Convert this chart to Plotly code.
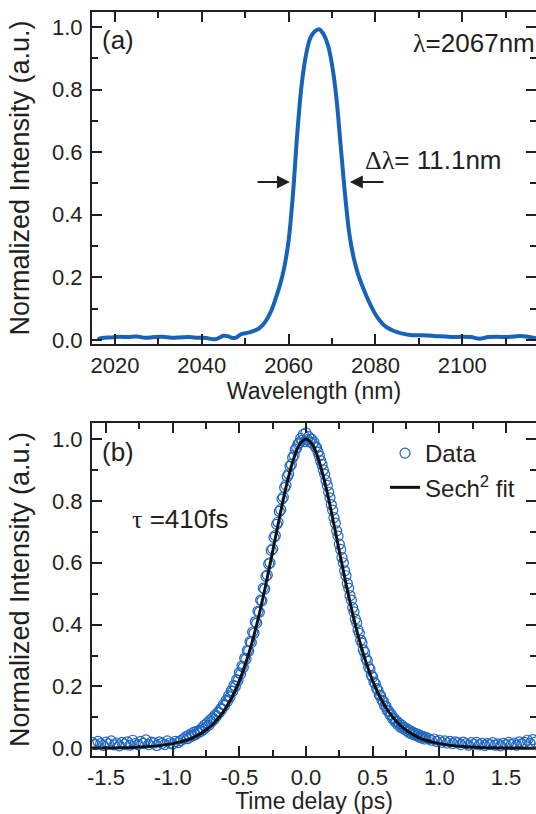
"""
Two-panel figure: (a) optical spectrum, (b) autocorrelation trace with sech^2 fit.
"""

import plotly.graph_objects as go
from plotly.subplots import make_subplots

# ---------------------------------------------------------------------------
# (a) spectrum
# ---------------------------------------------------------------------------
WAVELENGTH_NM = [
    2016, 2017, 2019, 2021, 2023, 2025, 2027, 2029, 2031, 2033, 2035, 2037,
    2039, 2041, 2043, 2045, 2046, 2047, 2048, 2049, 2050, 2051, 2052, 2053,
    2054, 2055, 2056, 2057, 2058, 2059, 2060, 2061, 2062, 2063, 2064, 2065,
    2066, 2067, 2068, 2069, 2070, 2071, 2072, 2073, 2074, 2075, 2076, 2077,
    2078, 2079, 2080, 2081, 2082, 2083, 2084, 2085, 2086, 2088, 2090, 2092,
    2094, 2096, 2098, 2100, 2102, 2104, 2106, 2108, 2110, 2112, 2114, 2116,
    2117,
]
SPECTRUM_INT = [
    0.002, 0.006, 0.008, 0.010, 0.009, 0.011, 0.007, 0.009, 0.010, 0.007, 0.008, 0.009,
    0.007, 0.006, 0.002, 0.013, 0.012, 0.006, 0.008, 0.018, 0.021, 0.024, 0.029, 0.035,
    0.047, 0.066, 0.093, 0.132, 0.175, 0.232, 0.318, 0.465, 0.660, 0.815, 0.910, 0.965,
    0.986, 0.993, 0.978, 0.945, 0.880, 0.775, 0.620, 0.465, 0.338, 0.262, 0.210, 0.172,
    0.138, 0.108, 0.082, 0.062, 0.047, 0.037, 0.030, 0.025, 0.021, 0.016, 0.015, 0.014,
    0.012, 0.011, 0.009, 0.010, 0.009, 0.004, 0.009, 0.010, 0.009, 0.011, 0.012, 0.008,
    0.005,
]

# ---------------------------------------------------------------------------
# (b) autocorrelation data
# ---------------------------------------------------------------------------
DELAY_PS = [
    -1.60, -1.58, -1.56, -1.54, -1.52, -1.50, -1.48, -1.46, -1.44, -1.42, -1.40, -1.38,
    -1.36, -1.34, -1.32, -1.30, -1.28, -1.26, -1.24, -1.22, -1.20, -1.18, -1.16, -1.14,
    -1.12, -1.10, -1.08, -1.06, -1.04, -1.02, -1.00, -0.98, -0.96, -0.94, -0.92,
    -0.90, -0.89, -0.88, -0.87, -0.86, -0.85, -0.84, -0.83, -0.82, -0.81, -0.80, -0.79,
    -0.78, -0.77, -0.76, -0.75, -0.74, -0.73, -0.72, -0.71, -0.70, -0.69, -0.68, -0.67,
    -0.66, -0.65, -0.64, -0.63, -0.62, -0.61, -0.60, -0.59, -0.58, -0.57, -0.56, -0.55,
    -0.54, -0.53, -0.52, -0.51, -0.50, -0.49, -0.48, -0.47, -0.46, -0.45, -0.44, -0.43,
    -0.42, -0.41, -0.40, -0.39, -0.38, -0.37, -0.36, -0.35, -0.34, -0.33, -0.32, -0.31,
    -0.30, -0.29, -0.28, -0.27, -0.26, -0.25, -0.24, -0.23, -0.22, -0.21, -0.20, -0.19,
    -0.18, -0.17, -0.16, -0.15, -0.14, -0.13, -0.12, -0.11, -0.10, -0.09, -0.08, -0.07,
    -0.06, -0.05, -0.04, -0.03, -0.02, -0.01, 0.00, 0.01, 0.02, 0.03, 0.04, 0.05,
    0.06, 0.07, 0.08, 0.09, 0.10, 0.11, 0.12, 0.13, 0.14, 0.15, 0.16, 0.17,
    0.18, 0.19, 0.20, 0.21, 0.22, 0.23, 0.24, 0.25, 0.26, 0.27, 0.28, 0.29,
    0.30, 0.31, 0.32, 0.33, 0.34, 0.35, 0.36, 0.37, 0.38, 0.39, 0.40, 0.41,
    0.42, 0.43, 0.44, 0.45, 0.46, 0.47, 0.48, 0.49, 0.50, 0.51, 0.52, 0.53,
    0.54, 0.55, 0.56, 0.57, 0.58, 0.59, 0.60, 0.61, 0.62, 0.63, 0.64, 0.65,
    0.66, 0.67, 0.68, 0.69, 0.70, 0.71, 0.72, 0.73, 0.74, 0.75, 0.76, 0.77,
    0.78, 0.79, 0.80, 0.81, 0.82, 0.83, 0.84, 0.85, 0.86, 0.87, 0.88, 0.89, 0.90,
    0.92, 0.94, 0.96, 0.98, 1.00, 1.02, 1.04, 1.06, 1.08, 1.10, 1.12, 1.14,
    1.16, 1.18, 1.20, 1.22, 1.24, 1.26, 1.28, 1.30, 1.32, 1.34, 1.36, 1.38,
    1.40, 1.42, 1.44, 1.46, 1.48, 1.50, 1.52, 1.54, 1.56, 1.58, 1.60, 1.62,
    1.64, 1.66, 1.68, 1.70, 1.72,
]
AC_DATA = [
    0.018, 0.012, 0.022, 0.015, 0.009, 0.020, 0.014, 0.024, 0.011, 0.017, 0.008, 0.019,
    0.013, 0.021, 0.010, 0.026, 0.015, 0.012, 0.022, 0.016, 0.027, 0.012, 0.020, 0.017,
    0.009, 0.021, 0.016, 0.012, 0.024, 0.017, 0.014, 0.022, 0.018, 0.025, 0.030,
    0.038, 0.031, 0.042, 0.036, 0.047, 0.040, 0.052, 0.044, 0.055, 0.050, 0.058, 0.054,
    0.066, 0.060, 0.075, 0.068, 0.082, 0.074, 0.091, 0.085, 0.098, 0.093, 0.108, 0.104,
    0.117, 0.115, 0.128, 0.126, 0.141, 0.138, 0.155, 0.151, 0.170, 0.166, 0.186, 0.184,
    0.203, 0.200, 0.222, 0.219, 0.244, 0.240, 0.266, 0.262, 0.291, 0.288, 0.316, 0.314,
    0.345, 0.342, 0.376, 0.372, 0.409, 0.405, 0.443, 0.440, 0.479, 0.477, 0.518, 0.515,
    0.556, 0.560, 0.596, 0.600, 0.640, 0.645, 0.682, 0.688, 0.724, 0.731, 0.766, 0.772,
    0.806, 0.812, 0.843, 0.851, 0.879, 0.887, 0.912, 0.918, 0.940, 0.948, 0.966, 0.972,
    0.984, 0.988, 1.002, 0.996, 1.015, 0.992, 1.020, 0.998, 1.008, 0.990, 1.000, 0.986,
    0.990, 0.975, 0.972, 0.958, 0.945, 0.930, 0.918, 0.900, 0.886, 0.866, 0.850, 0.828,
    0.810, 0.788, 0.770, 0.746, 0.728, 0.703, 0.686, 0.660, 0.643, 0.617, 0.600, 0.574,
    0.558, 0.533, 0.518, 0.494, 0.479, 0.455, 0.441, 0.418, 0.406, 0.383, 0.372, 0.350,
    0.340, 0.318, 0.310, 0.290, 0.282, 0.262, 0.256, 0.236, 0.230, 0.214, 0.209, 0.193,
    0.188, 0.172, 0.170, 0.155, 0.152, 0.137, 0.136, 0.122, 0.121, 0.108, 0.109, 0.095,
    0.097, 0.085, 0.088, 0.076, 0.080, 0.068, 0.074, 0.064, 0.067, 0.058, 0.062, 0.052,
    0.057, 0.047, 0.052, 0.044, 0.048, 0.040, 0.045, 0.036, 0.041, 0.033, 0.038, 0.030, 0.035,
    0.031, 0.026, 0.030, 0.022, 0.026, 0.019, 0.024, 0.017, 0.022, 0.015, 0.021, 0.018,
    0.012, 0.020, 0.015, 0.010, 0.018, 0.013, 0.019, 0.011, 0.016, 0.009, 0.015, 0.012,
    0.018, 0.010, 0.014, 0.008, 0.016, 0.011, 0.019, 0.012, 0.017, 0.010, 0.021, 0.014,
    0.019, 0.026, 0.016, 0.028, 0.020,
]

# sech^2 fit
FIT_PS = [
    -1.70, -1.60, -1.50, -1.40, -1.30, -1.20, -1.10, -1.00, -0.95, -0.90, -0.85, -0.80,
    -0.75, -0.70, -0.65, -0.60, -0.55, -0.50, -0.45, -0.40, -0.35, -0.30, -0.25, -0.20,
    -0.15, -0.10, -0.05, 0.00, 0.05, 0.10, 0.15, 0.20, 0.25, 0.30, 0.35, 0.40,
    0.45, 0.50, 0.55, 0.60, 0.65, 0.70, 0.75, 0.80, 0.85, 0.90, 0.95, 1.00,
    1.10, 1.20, 1.30, 1.40, 1.50, 1.60, 1.70, 1.75,
]
FIT_INT = [
    0.0003, 0.0005, 0.0009, 0.0016, 0.0028, 0.0049, 0.0086, 0.0151, 0.020, 0.026, 0.034, 0.045,
    0.059, 0.077, 0.101, 0.131, 0.170, 0.218, 0.278, 0.350, 0.435, 0.532, 0.637, 0.744,
    0.844, 0.926, 0.981, 1.000, 0.981, 0.926, 0.844, 0.744, 0.637, 0.532, 0.435, 0.350,
    0.278, 0.218, 0.170, 0.131, 0.101, 0.077, 0.059, 0.045, 0.034, 0.026, 0.020, 0.0151,
    0.0086, 0.0049, 0.0028, 0.0016, 0.0009, 0.0005, 0.0003, 0.0002,
]

DELAY_TICKS = [-1.5, -1.0, -0.5, 0.0, 0.5, 1.0, 1.5]
DELAY_TICK_TEXT = ["-1.5", "-1.0", "-0.5", "0.0", "0.5", "1.0", "1.5"]

BLUE = "#1763b9"
DOT_BLUE = "#1f66c2"
INK = "#231f20"
FONT = "Arial, Liberation Sans, sans-serif"
SERIF = "Liberation Serif, Times New Roman, serif"

fig = make_subplots(rows=2, cols=1)

fig.add_trace(go.Scatter(
    x=WAVELENGTH_NM, y=SPECTRUM_INT, mode="lines", line_shape="spline",
    line=dict(color=BLUE, width=4), showlegend=False,
), row=1, col=1)

fig.add_trace(go.Scatter(
    x=DELAY_PS, y=AC_DATA, mode="markers", name="Data", legendgroup="d",
    marker=dict(symbol="circle-open", size=10, color=DOT_BLUE,
                line=dict(width=1.2, color=DOT_BLUE)),
), row=2, col=1)

fig.add_trace(go.Scatter(
    x=FIT_PS, y=FIT_INT, mode="lines", line_shape="spline",
    name="Sech<sup>2</sup> fit", legendgroup="f",
    line=dict(color="#111111", width=3),
), row=2, col=1)

axis_common = dict(
    showline=True, linecolor=INK, linewidth=2, mirror="ticks",
    ticks="inside", ticklen=10, tickwidth=1.5, tickcolor=INK,
    showgrid=False, zeroline=False, automargin=False,
    tickfont=dict(family=FONT, size=22, color=INK),
)

fig.update_xaxes(**axis_common, ticklabelstandoff=1,
                 title_font=dict(family=FONT, size=23, color=INK))
fig.update_yaxes(**axis_common, ticklabelstandoff=3,
                 title_font=dict(family=FONT, size=27, color=INK))

fig.update_xaxes(
    range=[2014.7, 2117.0], dtick=20, tick0=2000,
    minor=dict(ticks="inside", ticklen=6, dtick=10, tickcolor=INK, tickwidth=1.5),
    title_text="Wavelength (nm)", title_standoff=0,
    domain=[0, 1], row=1, col=1,
)
fig.update_yaxes(
    range=[-0.013, 1.048], dtick=0.2, tickformat=".1f",
    minor=dict(ticks="inside", ticklen=6, dtick=0.1, tickcolor=INK, tickwidth=1.5),
    title_text="Normalized Intensity (a.u.)", title_standoff=15,
    domain=[0.5538, 1.0], row=1, col=1,
)
fig.update_xaxes(
    range=[-1.605, 1.725], tickvals=DELAY_TICKS, ticktext=DELAY_TICK_TEXT,
    minor=dict(ticks="inside", ticklen=6, dtick=0.25, tick0=0, tickcolor=INK, tickwidth=1.5),
    title_text="Time delay (ps)", title_standoff=0,
    domain=[0, 1], row=2, col=1,
)
fig.update_yaxes(
    range=[-0.025, 1.052], dtick=0.2, tickformat=".1f",
    minor=dict(ticks="inside", ticklen=6, dtick=0.1, tickcolor=INK, tickwidth=1.5),
    title_text="Normalized Intensity (a.u.)", title_standoff=15,
    domain=[0.0, 0.4476], row=2, col=1,
)

txt = dict(family=FONT, size=26, color=INK)
fig.add_annotation(x=2016.5, y=0.958, xref="x", yref="y", text="(a)",
                   showarrow=False, xanchor="left", yanchor="middle", font=txt)
fig.add_annotation(x=2088.3, y=0.948, xref="x", yref="y",
                   text=f"<span style='font-family:{SERIF}'>λ</span>=2067nm",
                   showarrow=False, xanchor="left", yanchor="middle", font=txt)
fig.add_annotation(x=2077.1, y=0.575, xref="x", yref="y",
                   text=f"<span style='font-family:{SERIF}'>Δλ</span>= 11.1nm",
                   showarrow=False, xanchor="left", yanchor="middle", font=txt)

arrow = dict(xref="x", yref="y", axref="x", ayref="y", text="", showarrow=True,
             arrowhead=2, arrowsize=1.3, arrowwidth=2, arrowcolor=INK, standoff=0)
fig.add_annotation(x=2060.3, y=0.505, ax=2052.5, ay=0.505, **arrow)
fig.add_annotation(x=2074.1, y=0.505, ax=2082.2, ay=0.505, **arrow)

fig.add_annotation(x=-1.545, y=0.958, xref="x2", yref="y2", text="(b)",
                   showarrow=False, xanchor="left", yanchor="middle", font=txt)
fig.add_annotation(x=-1.32, y=0.741, xref="x2", yref="y2",
                   text=f"<span style='font-family:{SERIF}'>τ</span> =410fs",
                   showarrow=False, xanchor="left", yanchor="middle", font=txt)

fig.update_layout(
    width=536, height=814,
    margin=dict(l=92, r=0, t=12, b=58),
    plot_bgcolor="white", paper_bgcolor="white",
    font=dict(family=FONT, color=INK),
    legend=dict(x=0.66, y=0.4368, xanchor="left", yanchor="top",
                font=dict(family=FONT, size=24, color=INK),
                bgcolor="rgba(0,0,0,0)", traceorder="grouped",
                tracegroupgap=0),
)

# the page's default body margin would shift the figure by 8px
fig.write_html("out.html", config={"displayModeBar": False},
               post_script="document.body.style.margin = '0';")
